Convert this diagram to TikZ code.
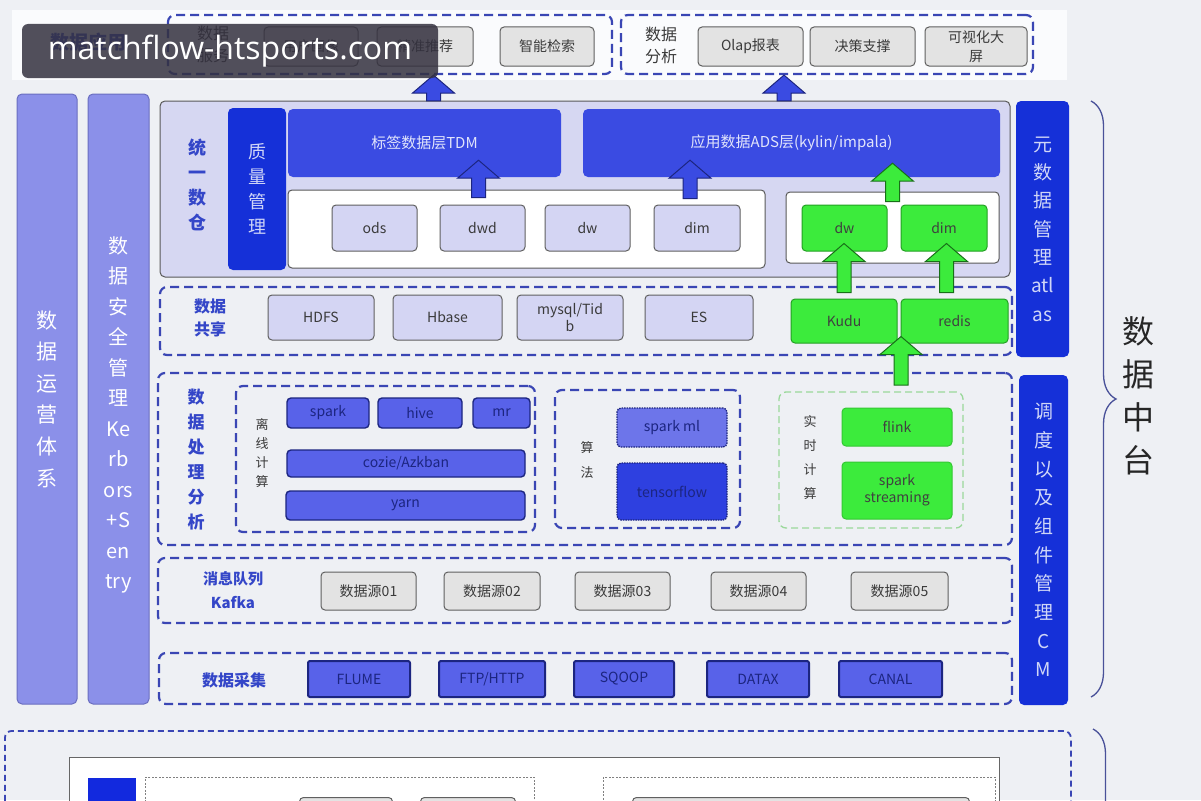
\documentclass[tikz,border=0pt]{standalone}
\usepackage{fontspec}
\setmainfont{Noto Sans CJK SC}
\newfontfamily\wmfont{Open Sans}
\usepackage{tikz}
\usetikzlibrary{calc, decorations.pathreplacing}

\definecolor{bgc}{HTML}{EEF0F4}
\definecolor{bandc}{HTML}{FAFBFD}
\definecolor{dashc}{HTML}{3A46B4}
\definecolor{colc}{HTML}{8B90E9}
\definecolor{colbd}{HTML}{6A6EC0}
\definecolor{deepc}{HTML}{1530D8}
\definecolor{layc}{HTML}{3A4BE2}
\definecolor{dwc}{HTML}{D6D7F2}
\definecolor{lavc}{HTML}{D4D5F3}
\definecolor{grayc}{HTML}{E3E3E3}
\definecolor{grnc}{HTML}{3CEB3C}
\definecolor{grnbd}{HTML}{23A023}
\definecolor{lgrn}{HTML}{9AD89A}
\definecolor{midc}{HTML}{5862E9}
\definecolor{navyc}{HTML}{1C2580}
\definecolor{labc}{HTML}{3446C8}
\definecolor{txtc}{HTML}{3A3A3A}
\definecolor{mlc}{HTML}{6D75EA}
\definecolor{tfc}{HTML}{2E40E0}
\definecolor{wmc}{HTML}{34313F}

\newcommand{\fsz}[2]{\fontsize{#1}{#2}\selectfont}
\tikzset{wh/.style 2 args={minimum width=#1pt, minimum height=#2pt}}
\tikzstyle{grp}=[draw=dashc, line width=2.2pt, dash pattern=on 9pt off 5pt, rounded corners=7pt, inner sep=0pt]
\tikzstyle{ggrp}=[draw=lgrn, line width=1.3pt, dash pattern=on 7pt off 4pt, rounded corners=7pt, inner sep=0pt]
\tikzstyle{lav}=[draw=gray!75!black, fill=lavc, line width=1pt, rounded corners=4pt, inner sep=0pt, text=txtc, font=\fsz{14}{17}, align=center]
\tikzstyle{gry}=[lav, fill=grayc]
\tikzstyle{grn}=[lav, draw=grnbd, fill=grnc, text=black!75]
\tikzstyle{eng}=[lav, draw=navyc, fill=midc, line width=1.4pt, text=navyc]
\tikzstyle{src}=[eng, line width=2pt, rounded corners=2pt]
\tikzstyle{layer}=[fill=layc, rounded corners=5pt, inner sep=0pt, text=white!85!layc, font=\fsz{15}{18}]
\tikzstyle{deep}=[fill=deepc, rounded corners=5pt, inner sep=0pt, align=center, text=white!80!deepc, font=\fsz{19}{28.3}]
\tikzstyle{col}=[fill=colc, draw=colbd, line width=1pt, rounded corners=5pt, inner sep=0pt]
\tikzstyle{lbl}=[text=labc, align=center, font=\fsz{16}{23}\bfseries]
\tikzstyle{note}=[text=txtc, align=center, font=\fsz{13}{19}]
\tikzstyle{blueup}=[fill=layc, draw=navyc]
\tikzstyle{greenup}=[fill=grnc, draw=grnbd!70!black]
\tikzstyle{brc}=[draw=navyc!80, line width=1.3pt, decorate, decoration={brace, amplitude=25pt}]
% block arrow pointing up, from #2 to the tip #3
\newcommand{\fatup}[3]{%
  \filldraw[#1, line width=1pt] let \p1=(#2), \p2=(#3) in
    (\x1-7pt,\y1) -- (\x1-7pt,\y2-18pt) -- (\x1-21pt,\y2-18pt) -- (\x1,\y2)
    -- (\x1+21pt,\y2-18pt) -- (\x1+7pt,\y2-18pt) -- (\x1+7pt,\y1) -- cycle;}

\begin{document}
\begin{tikzpicture}[x=1pt, y=-1pt]
\useasboundingbox (0,0) rectangle (1201,800);
\clip (0,0) rectangle (1201,800);
\fill[bgc] (0,0) rectangle (1201,800);

% application layer
\node[fill=bandc, wh={1055}{70}, inner sep=0pt] (band) at (539.5,45) {};
\node[lbl, font=\fsz{19}{23}\bfseries] (appl) at (88,42) {数据应用};
\node[grp, wh={444}{59}] (svc) at (390,44.5) {};
\node[note, font=\fsz{16}{22}] (svcl) at (213,44) {数据\\服务};
\node[gry, wh={94}{39}] (ua) at (311,46.5) {用户画像};
\node[gry, wh={96}{39}] (rec) at (425,46.5) {精准推荐};
\node[gry, wh={94}{39}] (srch) at (547,46.5) {智能检索};
\node[grp, wh={412}{59}] (ana) at (827,44.5) {};
\node[note, font=\fsz{16}{22}] (anal) at (661,45) {数据\\分析};
\node[gry, wh={105}{39}] (olap) at (750.5,46.5) {Olap报表};
\node[gry, wh={105}{39}] (dec) at (862.5,46.5) {决策支撑};
\node[gry, wh={102}{39}, font=\fsz{14}{19}] (vis) at (976,46.5) {可视化大\\屏};

% side columns
\node[col, wh={60}{610}] (ops) at (47,399) {};
\node[text=white, align=center, font=\fsz{21}{31.6}] (opst) at (47,399) {数\\据\\运\\营\\体\\系};
\node[col, wh={61}{610}] (sec) at (118.5,399) {};
\node[text=white, align=center, font=\fsz{20}{30.5}] (sect) at (118.5,415) {数\\据\\安\\全\\管\\理\\Ke\\rb\\ors\\+S\\en\\try};

% unified warehouse
\node[fill=dwc, draw=gray!70!black, line width=1pt, rounded corners=5pt, wh={850}{176}] (dw) at (585,189) {};
\node[lbl, font=\fsz{18}{25}\bfseries] (dwl) at (197,185) {统\\一\\数\\仓};
\node[deep, wh={58}{162}, font=\fsz{18}{25}] (qm) at (257,189) {质\\量\\管\\理};
\node[layer, wh={273}{68}] (tdm) at (424.5,143) {标签数据层TDM};
\node[layer, wh={417}{68}] (ads) at (791.5,143) {应用数据ADS层(kylin/impala)};
\node[fill=white, draw=gray!70!black, line width=1pt, rounded corners=4pt, wh={477}{78}] (wh1) at (526.5,229) {};
\node[lav, wh={85}{46}] (ods) at (374.5,228) {ods};
\node[lav, wh={85}{46}] (dwd) at (482.5,228) {dwd};
\node[lav, wh={85}{46}] (dwx) at (587.5,228) {dw};
\node[lav, wh={86}{46}] (dimx) at (697,228) {dim};
\node[fill=white, draw=gray!70!black, line width=1pt, rounded corners=4pt, wh={213}{71}] (wh2) at (892.5,227.5) {};
\node[grn, wh={85}{46}] (gdw) at (844.5,228) {dw};
\node[grn, wh={86}{46}] (gdim) at (944,228) {dim};

% data sharing
\node[grp, wh={852}{68}] (share) at (586,321) {};
\node[lbl] (sharel) at (210,318) {数据\\共享};
\node[lav, wh={106}{45}] (hdfs) at (321,317.5) {HDFS};
\node[lav, wh={109}{45}] (hbase) at (447.5,317.5) {Hbase};
\node[lav, wh={106}{45}] (mysql) at (570,317.5) {mysql/Tid\\b};
\node[lav, wh={108}{45}] (es) at (699,317.5) {ES};
\node[grn, wh={106}{44}] (kudu) at (844,321) {Kudu};
\node[grn, wh={107}{44}] (redis) at (954.5,321) {redis};

% processing
\node[grp, wh={854}{172}] (proc) at (585,459) {};
\node[lbl, font=\fsz{17}{25}\bfseries] (procl) at (196,460) {数\\据\\处\\理\\分\\析};
\node[grp, wh={299}{146}] (off) at (385.5,459) {};
\node[note] (offl) at (262,453) {离\\线\\计\\算};
\node[eng, wh={82}{30}] (spark) at (328,413) {spark};
\node[eng, wh={84}{30}] (hive) at (420,413) {hive};
\node[eng, wh={57}{30}] (mr) at (501.5,413) {mr};
\node[eng, wh={238}{27}] (oozie) at (406,463.5) {cozie/Azkban};
\node[eng, wh={239}{29}] (yarn) at (405.5,505.5) {yarn};
\node[grp, wh={185}{138}] (algo) at (647.5,459) {};
\node[note, font=\fsz{13}{25}] (algol) at (587,460) {算\\法};
\node[lav, fill=mlc, draw=navyc, dash pattern=on 1.5pt off 1pt, line width=1.3pt, text=navyc, wh={110}{39}] (sml) at (672,427.5) {spark ml};
\node[lav, fill=tfc, draw=navyc, dash pattern=on 1.5pt off 1pt, line width=1.3pt, text=navyc, wh={110}{57}] (tf) at (672,491.5) {tensorflow};
\node[ggrp, wh={184}{136}] (rt) at (871,460) {};
\node[note, font=\fsz{13}{24}] (rtl) at (810,458) {实\\时\\计\\算};
\node[grn, draw=grnc!85!black, wh={110}{38}] (flink) at (897,427) {flink};
\node[grn, draw=grnc!85!black, wh={110}{57}] (sstr) at (897,490.5) {spark\\streaming};
\coordinate (rtin) at (901,385);

% message queue
\node[grp, wh={854}{65}] (kafka) at (585,590.5) {};
\node[lbl, font=\fsz{15}{24}\bfseries] (kafkal) at (233,590) {消息队列\\Kafka};
\node[gry, wh={95}{38}] (src1) at (368.5,591) {数据源01};
\node[gry, wh={96}{38}] (src2) at (492,591) {数据源02};
\node[gry, wh={95}{38}] (src3) at (622.5,591) {数据源03};
\node[gry, wh={95}{38}] (src4) at (758.5,591) {数据源04};
\node[gry, wh={97}{38}] (src5) at (899.5,591) {数据源05};

% collection
\node[grp, wh={853}{51}] (coll) at (585.5,678.5) {};
\node[lbl] (colll) at (234,680) {数据采集};
\node[src, wh={102}{36}] (flume) at (359,679) {FLUME};
\node[src, wh={106}{36}] (ftp) at (492,679) {FTP/HTTP};
\node[src, wh={100}{36}] (sqoop) at (624,679) {SQOOP};
\node[src, wh={102}{36}] (datax) at (758,679) {DATAX};
\node[src, wh={103}{36}] (canal) at (890.5,679) {CANAL};

% right side
\node[deep, wh={53}{256}] (meta) at (1042.5,229) {元\\数\\据\\管\\理\\atl\\as};
\node[deep, wh={49}{330}, font=\fsz{19}{28.7}] (cm) at (1043.5,540) {调\\度\\以\\及\\组\\件\\管\\理\\C\\M};
\draw[brc] (1091,101) -- (1091,697);
\node[align=center, text=black!85, font=\fsz{32}{43}] (mid) at (1138,396) {数\\据\\中\\台};

% lower section
\node[grp, line width=1.8pt, dash pattern=on 6pt off 4pt, wh={1066}{120}, anchor=north west] (infra) at (4,730) {};
\node[fill=white, draw=gray!80!black, line width=1.2pt, wh={930}{80}, anchor=north west, inner sep=0pt] (host) at (69,757) {};
\node[fill=deepc!85!blue, wh={48}{50}, anchor=north west, inner sep=0pt] (hsq) at (88,778) {};
\node[draw=gray, line width=0.8pt, dash pattern=on 2pt off 1.5pt, wh={389}{60}, anchor=north west, inner sep=0pt] (hb1) at (145,777) {};
\node[draw=gray, line width=0.8pt, dash pattern=on 2pt off 1.5pt, wh={392}{60}, anchor=north west, inner sep=0pt] (hb2) at (603,777) {};
\node[gry, wh={93}{30}, anchor=north west] (hc1) at (299,797) {};
\node[gry, wh={95}{30}, anchor=north west] (hc2) at (420,797) {};
\node[gry, wh={337}{30}, anchor=north west] (hc3) at (632,797) {};
\draw[brc] (1093,729) -- (1093,1329);

% arrows
\fatup{blueup}{[xshift=9pt,yshift=8pt]tdm.north}{svc.south}
\fatup{blueup}{[xshift=-7.5pt,yshift=8pt]ads.north}{ana.south}
\fatup{blueup}{[xshift=-4pt,yshift=7pt]dwd.north}{[yshift=17pt]tdm.south}
\fatup{blueup}{[xshift=-7pt,yshift=6pt]dimx.north}{[yshift=17pt]ads.south}
\fatup{greenup}{[yshift=-10pt]wh2.north}{[yshift=14pt]ads.south}
\fatup{greenup}{[yshift=6pt]kudu.north}{[yshift=8pt]gdw.south}
\fatup{greenup}{[xshift=-8pt,yshift=6pt]redis.north}{[yshift=8pt]gdim.south}
\fatup{greenup}{rtin}{[yshift=7pt]kudu.south}

% watermark
\node[fill=wmc, fill opacity=0.85, text opacity=1, text=white, rounded corners=6pt, wh={416}{54}, inner sep=0pt, font=\wmfont\fsz{32}{36}] (wm) at (230,51) {matchflow-htsports.com};
\end{tikzpicture}
\end{document}
